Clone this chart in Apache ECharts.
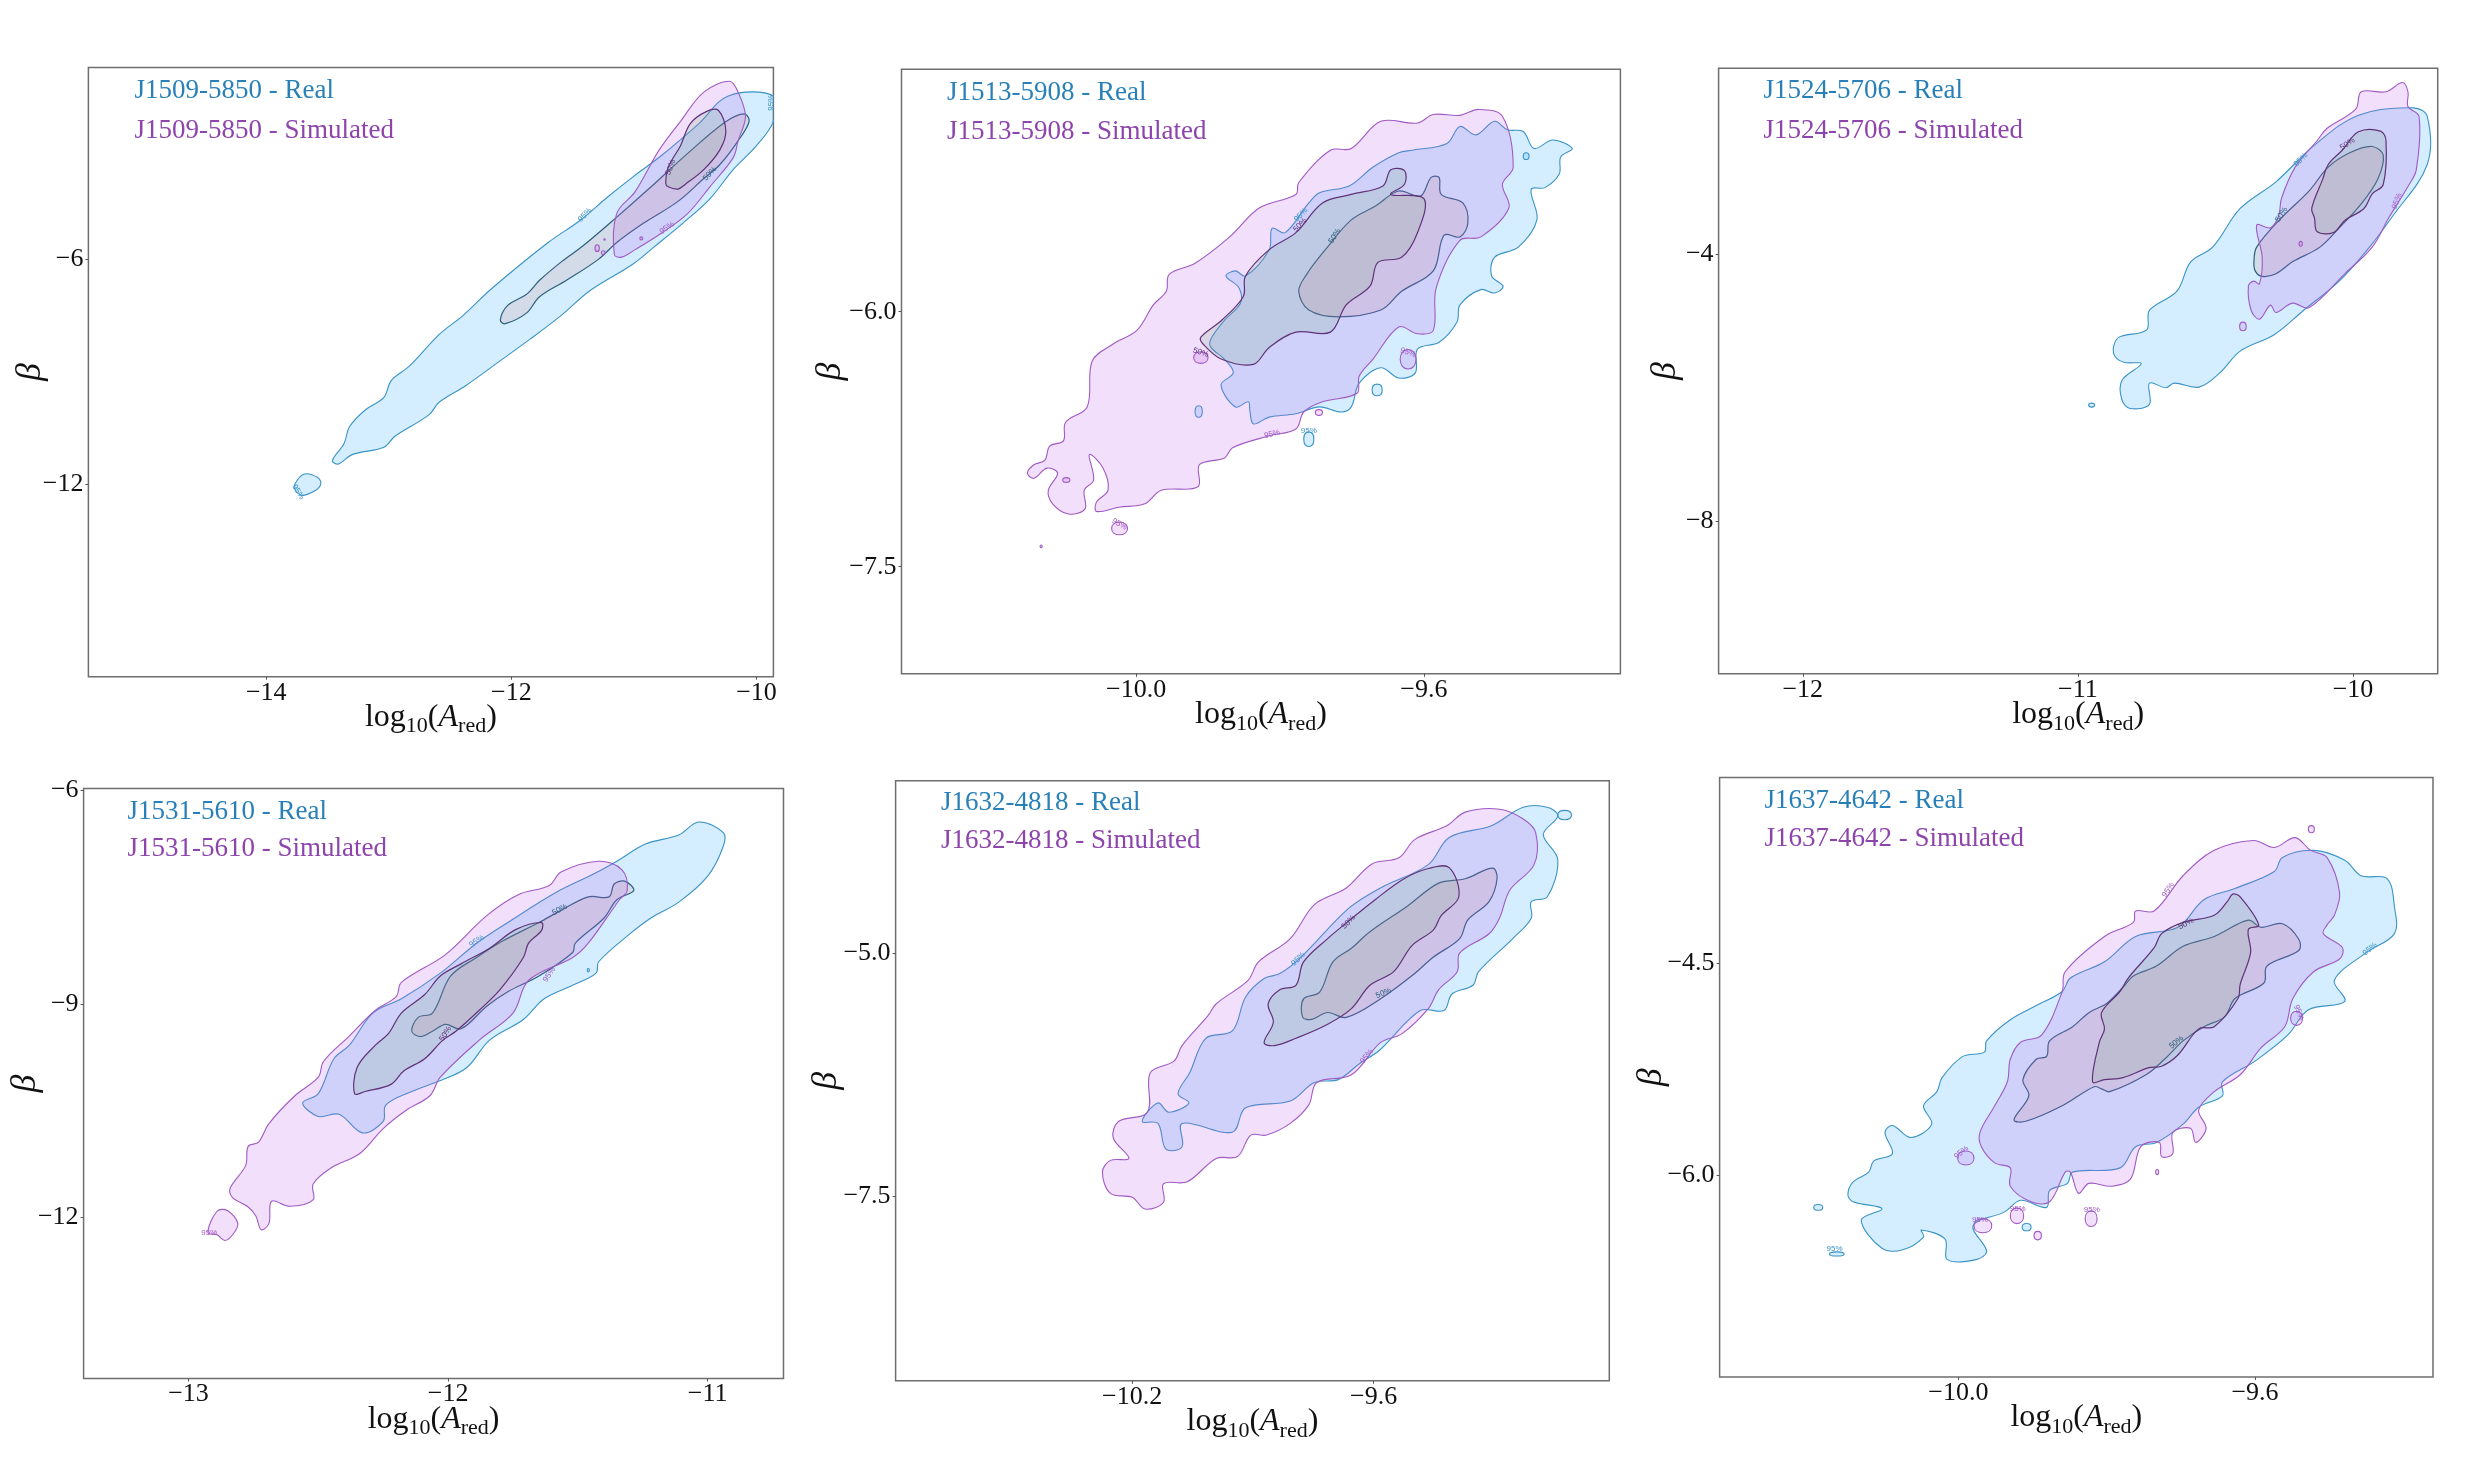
<!DOCTYPE html>
<html><head><meta charset="utf-8">
<style>html,body{margin:0;padding:0;background:#fff}#c{width:2480px;height:1465px}</style>
<script src="https://cdn.jsdelivr.net/npm/echarts@6/dist/echarts.min.js"></script>
</head><body><div id="c"></div>
<script>
// ---------- names ----------
const pulsars = ['J1509-5850','J1513-5908','J1524-5706','J1531-5610','J1632-4818','J1637-4642'];
// ---------- ticks ----------
const xTicks = [[-14,-12,-10],[-10.0,-9.6],[-12,-11,-10],[-13,-12,-11],[-10.2,-9.6],[-10.0,-9.6]];
const yTicks = [[-6,-12],[-6.0,-7.5],[-4,-8],[-6,-9,-12],[-5.0,-7.5],[-4.5,-6.0]];
const tickDecimals = [[0,0],[1,1],[0,0],[0,0],[1,1],[1,1]];
const xRange = [[-15.451,-9.862],[-10.326,-9.327],[-12.306,-9.692],[-13.404,-10.708],[-10.788,-9.014],[-10.322,-9.360]];
const yRange = [[-17.157,-0.868],[-8.130,-4.574],[-10.291,-1.207],[-14.256,-5.98],[-9.396,-3.227],[-7.432,-3.183]];

// ---------- J1509-5850 contours (log10 A_red, beta) ----------
const p1RealOuter = [[-13.46,-11.38],[-13.365,-10.92],[-13.32,-10.47],[-13.19,-10.02],[-13.04,-9.69],[-12.98,-9.24],[-12.83,-8.85],[-12.59,-8.01],[-12.39,-7.49],[-12.16,-6.78],[-11.70,-5.55],[-11.44,-4.96],[-11.21,-4.32],[-11.01,-3.80],[-10.77,-3.21],[-10.47,-2.37],[-10.23,-1.63],[-9.862,-1.63],[-9.862,-2.31],[-10.0,-2.96],[-10.19,-3.60],[-10.38,-4.38],[-10.60,-5.03],[-10.84,-5.68],[-11.01,-6.13],[-11.36,-6.84],[-11.59,-7.49],[-11.85,-8.14],[-12.07,-8.66],[-12.37,-9.37],[-12.59,-9.82],[-12.67,-10.15],[-12.95,-10.73],[-13.04,-11.02],[-13.30,-11.22],[-13.41,-11.47]];
const p1RealPatch = [[-13.77,-12.03],[-13.69,-11.74],[-13.58,-11.83],[-13.555,-12.0],[-13.60,-12.18],[-13.71,-12.31],[-13.76,-12.18]];
const p1RealInner = [[-12.09,-7.62],[-12.03,-7.23],[-11.875,-6.93],[-11.77,-6.56],[-11.59,-6.06],[-11.42,-5.65],[-11.14,-4.87],[-10.86,-4.06],[-10.60,-3.28],[-10.255,-2.33],[-10.10,-2.11],[-10.06,-2.31],[-10.15,-2.83],[-10.30,-3.47],[-10.43,-3.84],[-10.64,-4.45],[-10.92,-5.03],[-11.14,-5.55],[-11.29,-6.0],[-11.55,-6.56],[-11.77,-7.0],[-11.875,-7.43],[-12.05,-7.72]];
const p1SimOuter = [[-11.16,-5.87],[-11.14,-4.77],[-10.99,-4.19],[-10.795,-3.08],[-10.62,-2.31],[-10.43,-1.53],[-10.22,-1.24],[-10.15,-1.53],[-10.09,-2.18],[-10.15,-2.83],[-10.19,-3.28],[-10.38,-4.06],[-10.56,-4.77],[-10.77,-5.29],[-10.99,-5.74],[-11.10,-5.94]];
const p1SimInner = [[-10.74,-3.97],[-10.72,-3.54],[-10.62,-2.96],[-10.54,-2.37],[-10.41,-2.05],[-10.31,-2.02],[-10.25,-2.57],[-10.30,-3.08],[-10.43,-3.60],[-10.58,-3.99],[-10.64,-4.12],[-10.72,-4.06]];
const p1RealSpots = [];
const p1SimSpots = [[-11.30,-5.70,0.018,0.09],[-11.25,-5.82,0.016,0.05],[-10.94,-5.44,0.012,0.04],[-11.24,-5.47,0.006,0.02]];
const p1Notes = [[-11.40,-4.81,'95%',0.8,'r'],[-9.88,-1.81,'95%',1.57,'r'],[-13.74,-12.22,'95%',-1.0,'r'],[-10.38,-3.71,'50%',0.8,'R'],[-10.70,-3.54,'50%',1.2,'S'],[-10.73,-5.16,'95%',0.6,'s']];

// ---------- J1513-5908 ----------
const p2RealOuter = [[-9.896,-6.16],[-9.877,-6.05],[-9.855,-5.95],[-9.857,-5.86],[-9.875,-5.79],[-9.862,-5.76],[-9.848,-5.79],[-9.815,-5.635],[-9.811,-5.51],[-9.793,-5.535],[-9.76,-5.36],[-9.745,-5.30],[-9.704,-5.26],[-9.671,-5.15],[-9.635,-5.065],[-9.616,-5.05],[-9.568,-5.01],[-9.55,-4.91],[-9.528,-4.96],[-9.502,-4.88],[-9.484,-4.93],[-9.462,-4.94],[-9.447,-5.04],[-9.421,-4.99],[-9.394,-5.04],[-9.41,-5.09],[-9.412,-5.19],[-9.432,-5.27],[-9.451,-5.28],[-9.443,-5.46],[-9.469,-5.62],[-9.502,-5.68],[-9.506,-5.79],[-9.49,-5.85],[-9.502,-5.89],[-9.521,-5.87],[-9.55,-5.96],[-9.554,-6.06],[-9.579,-6.18],[-9.609,-6.22],[-9.612,-6.36],[-9.635,-6.39],[-9.66,-6.33],[-9.69,-6.42],[-9.701,-6.56],[-9.715,-6.59],[-9.745,-6.56],[-9.778,-6.60],[-9.815,-6.62],[-9.837,-6.66],[-9.842,-6.58],[-9.844,-6.53],[-9.862,-6.56],[-9.882,-6.43],[-9.865,-6.36],[-9.877,-6.28],[-9.896,-6.21]];
const p2RealInner = [[-9.774,-5.88],[-9.763,-5.78],[-9.737,-5.635],[-9.701,-5.46],[-9.668,-5.38],[-9.635,-5.29],[-9.605,-5.32],[-9.59,-5.21],[-9.579,-5.21],[-9.576,-5.31],[-9.546,-5.36],[-9.539,-5.48],[-9.55,-5.56],[-9.572,-5.55],[-9.587,-5.76],[-9.631,-5.88],[-9.66,-5.99],[-9.719,-6.03],[-9.76,-5.99]];
const p2SimOuter = [[-10.151,-6.95],[-10.142,-6.90],[-10.127,-6.875],[-10.12,-6.79],[-10.101,-6.76],[-10.098,-6.65],[-10.068,-6.56],[-10.061,-6.29],[-10.032,-6.19],[-9.999,-6.11],[-9.976,-5.96],[-9.958,-5.88],[-9.954,-5.78],[-9.918,-5.715],[-9.87,-5.56],[-9.829,-5.39],[-9.778,-5.31],[-9.774,-5.24],[-9.73,-5.05],[-9.701,-5.04],[-9.66,-4.88],[-9.609,-4.89],[-9.587,-4.84],[-9.55,-4.845],[-9.524,-4.81],[-9.491,-4.85],[-9.476,-5.15],[-9.491,-5.25],[-9.482,-5.39],[-9.521,-5.56],[-9.55,-5.58],[-9.583,-5.86],[-9.587,-6.11],[-9.609,-6.13],[-9.635,-6.09],[-9.671,-6.28],[-9.69,-6.38],[-9.693,-6.48],[-9.741,-6.53],[-9.767,-6.59],[-9.778,-6.69],[-9.815,-6.73],[-9.866,-6.80],[-9.877,-6.86],[-9.912,-6.90],[-9.914,-7.03],[-9.965,-7.05],[-9.988,-7.13],[-10.024,-7.15],[-10.055,-7.175],[-10.055,-7.12],[-10.039,-7.05],[-10.046,-6.92],[-10.065,-6.84],[-10.059,-6.99],[-10.072,-7.05],[-10.071,-7.16],[-10.094,-7.19],[-10.116,-7.13],[-10.122,-7.05],[-10.109,-6.95],[-10.124,-6.92],[-10.142,-6.98]];
const p2SimInner = [[-9.91,-6.15],[-9.881,-6.05],[-9.851,-5.91],[-9.848,-5.79],[-9.815,-5.635],[-9.778,-5.535],[-9.741,-5.36],[-9.701,-5.31],[-9.657,-5.26],[-9.646,-5.165],[-9.627,-5.17],[-9.627,-5.25],[-9.646,-5.31],[-9.6,-5.335],[-9.609,-5.535],[-9.631,-5.68],[-9.664,-5.71],[-9.675,-5.85],[-9.708,-5.96],[-9.73,-6.12],[-9.778,-6.12],[-9.815,-6.21],[-9.837,-6.31],[-9.881,-6.28],[-9.907,-6.19]];
const p2RealSpots = [[-9.913,-6.587,0.005,0.034],[-9.665,-6.46,0.007,0.034],[-9.76,-6.75,0.007,0.043],[-9.458,-5.085,0.004,0.02]];
const p2SimSpots = [[-9.746,-6.593,0.005,0.017],[-9.91,-6.27,0.01,0.034],[-9.622,-6.28,0.011,0.057],[-10.023,-7.275,0.011,0.037],[-10.132,-7.38,0.0015,0.008],[-10.097,-6.99,0.005,0.014]];
const p2Notes = [[-9.811,-6.72,'95%',0.25,'s'],[-9.76,-6.70,'95%',0,'r'],[-9.771,-5.43,'95%',0.8,'r'],[-9.772,-5.49,'50%',0.8,'S'],[-9.724,-5.555,'50%',1.0,'R'],[-10.023,-7.25,'95%',-0.5,'s'],[-9.91,-6.24,'50%',-0.3,'S'],[-9.622,-6.24,'95%',-0.3,'s']];

// ---------- J1524-5706 ----------
const p3RealOuter = [[-10.87,-5.38],[-10.85,-5.24],[-10.75,-5.13],[-10.74,-4.84],[-10.64,-4.55],[-10.59,-4.11],[-10.51,-3.89],[-10.41,-3.31],[-10.28,-2.91],[-10.14,-2.36],[-9.98,-1.91],[-9.78,-1.80],[-9.73,-1.93],[-9.73,-2.65],[-9.86,-3.45],[-9.94,-3.89],[-10.05,-4.40],[-10.18,-4.84],[-10.285,-5.20],[-10.41,-5.45],[-10.485,-5.78],[-10.56,-5.99],[-10.65,-5.93],[-10.68,-6.0],[-10.74,-5.93],[-10.74,-6.25],[-10.81,-6.31],[-10.84,-6.18],[-10.84,-5.89],[-10.77,-5.64],[-10.83,-5.62],[-10.865,-5.53]];
const p3RealInner = [[-10.36,-4.11],[-10.35,-3.89],[-10.26,-3.45],[-10.16,-3.05],[-10.09,-2.69],[-10.01,-2.47],[-9.93,-2.38],[-9.89,-2.51],[-9.91,-2.87],[-9.97,-3.24],[-10.05,-3.60],[-10.12,-3.89],[-10.22,-4.11],[-10.28,-4.29],[-10.33,-4.33],[-10.355,-4.25]];
const p3SimOuter = [[-10.38,-4.47],[-10.36,-4.40],[-10.34,-4.44],[-10.33,-4.04],[-10.35,-3.56],[-10.30,-3.60],[-10.27,-3.42],[-10.26,-3.16],[-10.21,-2.69],[-10.13,-2.29],[-10.095,-2.11],[-9.99,-1.82],[-9.97,-1.56],[-9.88,-1.56],[-9.82,-1.42],[-9.80,-1.56],[-9.80,-1.78],[-9.76,-1.93],[-9.77,-2.73],[-9.80,-2.98],[-9.87,-3.45],[-9.93,-3.89],[-10.03,-4.29],[-10.16,-4.80],[-10.22,-4.73],[-10.28,-4.87],[-10.30,-4.76],[-10.34,-4.97],[-10.37,-4.84]];
const p3SimInner = [[-10.15,-3.31],[-10.11,-2.87],[-10.09,-2.65],[-10.04,-2.44],[-9.98,-2.16],[-9.90,-2.15],[-9.88,-2.29],[-9.89,-2.95],[-9.93,-3.09],[-9.96,-3.31],[-10.03,-3.49],[-10.07,-3.67],[-10.13,-3.66],[-10.14,-3.45]];
const p3RealSpots = [[-10.95,-6.26,0.011,0.03]];
const p3SimSpots = [[-10.40,-5.08,0.012,0.065],[-10.19,-3.84,0.006,0.036]];
const p3Notes = [[-10.19,-2.58,'95%',0.8,'r'],[-10.02,-2.34,'50%',0.6,'S'],[-10.26,-3.40,'50%',1.0,'R'],[-9.84,-3.2,'95%',1.2,'s']];

// ---------- J1531-5610 ----------
const p4RealOuter = [[-12.56,-10.39],[-12.50,-10.26],[-12.44,-9.77],[-12.38,-9.58],[-12.29,-9.13],[-12.18,-8.93],[-12.03,-8.57],[-11.89,-8.15],[-11.77,-7.86],[-11.585,-7.44],[-11.44,-7.18],[-11.35,-7.0],[-11.24,-6.76],[-11.11,-6.63],[-11.035,-6.45],[-10.94,-6.60],[-10.94,-6.79],[-11.0,-7.21],[-11.11,-7.57],[-11.22,-7.80],[-11.30,-8.02],[-11.42,-8.41],[-11.43,-8.57],[-11.52,-8.74],[-11.63,-8.93],[-11.71,-9.22],[-11.84,-9.51],[-11.93,-9.90],[-12.04,-10.09],[-12.14,-10.23],[-12.24,-10.42],[-12.25,-10.65],[-12.33,-10.81],[-12.42,-10.55],[-12.50,-10.58]];
const p4RealInner = [[-12.14,-9.385],[-12.115,-9.19],[-12.06,-9.13],[-11.99,-8.61],[-11.89,-8.35],[-11.79,-8.12],[-11.65,-7.86],[-11.565,-7.69],[-11.46,-7.50],[-11.38,-7.50],[-11.36,-7.32],[-11.32,-7.28],[-11.285,-7.41],[-11.35,-7.54],[-11.40,-7.80],[-11.51,-8.15],[-11.52,-8.28],[-11.65,-8.61],[-11.77,-8.83],[-11.85,-9.03],[-11.95,-9.35],[-12.01,-9.29],[-12.06,-9.385],[-12.105,-9.46]];
const p4SimOuter = [[-12.84,-11.59],[-12.78,-11.27],[-12.77,-11.0],[-12.73,-10.94],[-12.69,-10.68],[-12.59,-10.29],[-12.50,-10.03],[-12.48,-9.81],[-12.38,-9.45],[-12.28,-9.09],[-12.20,-8.90],[-12.18,-8.70],[-12.01,-8.31],[-11.85,-7.76],[-11.73,-7.47],[-11.61,-7.34],[-11.565,-7.15],[-11.42,-7.0],[-11.33,-7.12],[-11.31,-7.41],[-11.34,-7.54],[-11.46,-8.15],[-11.52,-8.35],[-11.69,-8.67],[-11.75,-9.13],[-11.88,-9.51],[-12.03,-10.03],[-12.07,-10.29],[-12.16,-10.49],[-12.25,-10.75],[-12.34,-11.10],[-12.45,-11.30],[-12.52,-11.53],[-12.52,-11.75],[-12.61,-11.84],[-12.68,-11.77],[-12.69,-12.08],[-12.72,-12.17],[-12.74,-11.98],[-12.77,-11.85],[-12.83,-11.72]];
const p4SimPatch = [[-12.925,-12.21],[-12.89,-11.91],[-12.85,-11.90],[-12.81,-12.08],[-12.83,-12.24],[-12.86,-12.32],[-12.89,-12.24]];
const p4SimInner = [[-12.36,-10.26],[-12.35,-9.89],[-12.28,-9.58],[-12.23,-9.42],[-12.18,-9.13],[-12.09,-8.87],[-12.03,-8.61],[-11.95,-8.44],[-11.84,-8.22],[-11.74,-7.96],[-11.64,-7.86],[-11.64,-7.97],[-11.69,-8.15],[-11.71,-8.35],[-11.80,-8.80],[-11.88,-9.09],[-11.97,-9.385],[-12.02,-9.51],[-12.09,-9.77],[-12.17,-9.94],[-12.22,-10.13],[-12.32,-10.23]];
const p4RealSpots = [[-11.46,-8.53,0.004,0.025]];
const p4SimSpots = [];
const p4Notes = [[-11.89,-8.12,'95%',0.6,'r'],[-11.61,-8.59,'95%',1.0,'s'],[-11.57,-7.68,'50%',0.5,'R'],[-12.01,-9.42,'50%',1.0,'S'],[-12.92,-12.21,'95%',0,'s']];

// ---------- J1632-4818 ----------
const p5RealOuter = [[-10.175,-6.73],[-10.136,-6.54],[-10.109,-6.635],[-10.059,-6.54],[-10.086,-6.445],[-10.057,-6.23],[-10.017,-5.875],[-9.951,-5.80],[-9.918,-5.45],[-9.872,-5.26],[-9.833,-5.21],[-9.78,-5.04],[-9.662,-4.54],[-9.583,-4.33],[-9.464,-4.09],[-9.412,-3.81],[-9.307,-3.69],[-9.228,-3.50],[-9.168,-3.50],[-9.142,-3.59],[-9.178,-3.78],[-9.142,-4.04],[-9.168,-4.42],[-9.208,-4.47],[-9.208,-4.64],[-9.254,-4.85],[-9.339,-5.19],[-9.353,-5.33],[-9.405,-5.42],[-9.425,-5.59],[-9.484,-5.59],[-9.583,-5.99],[-9.636,-6.14],[-9.688,-6.30],[-9.747,-6.33],[-9.807,-6.52],[-9.918,-6.59],[-9.951,-6.84],[-10.076,-6.75],[-10.076,-6.99],[-10.116,-7.015],[-10.136,-6.75]];
const p5RealInner = [[-9.776,-5.66],[-9.774,-5.47],[-9.734,-5.40],[-9.701,-5.09],[-9.655,-4.95],[-9.609,-4.78],[-9.517,-4.52],[-9.438,-4.28],[-9.372,-4.235],[-9.304,-4.125],[-9.293,-4.235],[-9.313,-4.47],[-9.366,-4.66],[-9.386,-4.85],[-9.451,-5.04],[-9.504,-5.23],[-9.583,-5.47],[-9.668,-5.66],[-9.714,-5.61],[-9.754,-5.68]];
const p5SimOuter = [[-10.274,-7.25],[-10.254,-7.13],[-10.208,-7.11],[-10.247,-6.90],[-10.234,-6.73],[-10.162,-6.635],[-10.155,-6.23],[-10.096,-6.11],[-10.076,-5.95],[-10.011,-5.64],[-9.991,-5.52],[-9.912,-5.28],[-9.886,-5.09],[-9.807,-4.85],[-9.747,-4.50],[-9.668,-4.33],[-9.603,-4.08],[-9.537,-4.02],[-9.497,-3.83],[-9.418,-3.69],[-9.372,-3.55],[-9.287,-3.52],[-9.228,-3.62],[-9.197,-3.76],[-9.201,-4.09],[-9.261,-4.35],[-9.287,-4.64],[-9.313,-4.80],[-9.386,-5.0],[-9.392,-5.19],[-9.438,-5.375],[-9.464,-5.57],[-9.53,-5.83],[-9.583,-5.92],[-9.655,-6.25],[-9.741,-6.33],[-9.761,-6.56],[-9.807,-6.75],[-9.866,-6.87],[-9.905,-6.87],[-9.938,-7.09],[-9.991,-7.11],[-10.063,-7.35],[-10.122,-7.37],[-10.122,-7.56],[-10.168,-7.63],[-10.2,-7.51],[-10.254,-7.47]];
const p5SimInner = [[-9.872,-5.92],[-9.849,-5.71],[-9.862,-5.52],[-9.833,-5.375],[-9.793,-5.33],[-9.774,-5.09],[-9.714,-4.85],[-9.668,-4.69],[-9.596,-4.45],[-9.524,-4.235],[-9.464,-4.13],[-9.412,-4.12],[-9.388,-4.42],[-9.432,-4.615],[-9.451,-4.76],[-9.504,-4.92],[-9.55,-5.19],[-9.609,-5.33],[-9.655,-5.57],[-9.714,-5.73],[-9.793,-5.875],[-9.846,-5.95]];
const p5RealSpots = [[-9.125,-3.58,0.017,0.048]];
const p5SimSpots = [];
const p5Notes = [[-9.787,-5.06,'95%',0.8,'r'],[-9.662,-4.68,'50%',0.8,'S'],[-9.575,-5.41,'50%',0.4,'R'],[-9.617,-6.06,'95%',0.9,'s']];

// ---------- J1637-4642 ----------
const p6RealOuter = [[-10.149,-6.14],[-10.142,-6.05],[-10.121,-5.98],[-10.114,-5.90],[-10.089,-5.85],[-10.099,-5.70],[-10.089,-5.65],[-10.064,-5.735],[-10.036,-5.64],[-10.047,-5.51],[-10.029,-5.41],[-10.022,-5.31],[-9.994,-5.16],[-9.965,-5.13],[-9.962,-5.05],[-9.93,-4.90],[-9.895,-4.80],[-9.86,-4.70],[-9.849,-4.605],[-9.803,-4.49],[-9.761,-4.31],[-9.704,-4.245],[-9.669,-4.05],[-9.627,-3.97],[-9.574,-3.85],[-9.563,-3.75],[-9.521,-3.70],[-9.479,-3.77],[-9.457,-3.88],[-9.422,-3.90],[-9.412,-4.10],[-9.412,-4.29],[-9.45,-4.425],[-9.493,-4.62],[-9.479,-4.77],[-9.528,-4.83],[-9.556,-5.01],[-9.599,-5.19],[-9.644,-5.34],[-9.644,-5.44],[-9.676,-5.52],[-9.697,-5.64],[-9.733,-5.77],[-9.761,-5.80],[-9.782,-5.95],[-9.846,-5.98],[-9.853,-6.06],[-9.877,-6.11],[-9.881,-6.23],[-9.916,-6.18],[-9.937,-6.26],[-9.98,-6.36],[-9.962,-6.54],[-9.976,-6.60],[-10.015,-6.60],[-10.018,-6.455],[-10.05,-6.39],[-10.047,-6.44],[-10.075,-6.53],[-10.103,-6.52],[-10.131,-6.32],[-10.103,-6.24],[-10.142,-6.19]];
const p6RealInner = [[-9.925,-5.61],[-9.905,-5.44],[-9.913,-5.325],[-9.895,-5.18],[-9.881,-5.16],[-9.877,-5.05],[-9.846,-4.95],[-9.824,-4.85],[-9.80,-4.785],[-9.778,-4.67],[-9.764,-4.59],[-9.733,-4.52],[-9.697,-4.38],[-9.655,-4.31],[-9.609,-4.195],[-9.592,-4.245],[-9.563,-4.22],[-9.541,-4.33],[-9.541,-4.41],[-9.584,-4.52],[-9.588,-4.64],[-9.627,-4.75],[-9.641,-4.88],[-9.669,-4.95],[-9.697,-5.05],[-9.722,-5.18],[-9.747,-5.29],[-9.796,-5.41],[-9.807,-5.39],[-9.817,-5.375],[-9.86,-5.51],[-9.909,-5.62]];
const p6SimOuter = [[-9.971,-5.70],[-9.951,-5.51],[-9.934,-5.34],[-9.93,-5.18],[-9.916,-5.06],[-9.888,-5.01],[-9.86,-4.70],[-9.856,-4.56],[-9.803,-4.31],[-9.764,-4.21],[-9.761,-4.13],[-9.736,-4.13],[-9.697,-3.88],[-9.655,-3.70],[-9.602,-3.63],[-9.574,-3.68],[-9.546,-3.61],[-9.525,-3.70],[-9.503,-3.75],[-9.486,-4.0],[-9.493,-4.16],[-9.503,-4.23],[-9.508,-4.29],[-9.482,-4.39],[-9.486,-4.47],[-9.521,-4.56],[-9.549,-4.75],[-9.56,-4.95],[-9.592,-5.10],[-9.62,-5.29],[-9.655,-5.41],[-9.676,-5.54],[-9.666,-5.67],[-9.68,-5.77],[-9.687,-5.67],[-9.711,-5.70],[-9.711,-5.85],[-9.726,-5.87],[-9.729,-5.77],[-9.754,-5.80],[-9.768,-6.03],[-9.793,-6.08],[-9.824,-6.06],[-9.838,-6.13],[-9.849,-5.98],[-9.856,-5.98],[-9.877,-6.19],[-9.902,-6.19],[-9.93,-6.08],[-9.93,-5.95],[-9.951,-5.915],[-9.969,-5.80]];
const p6SimInner = [[-9.819,-5.34],[-9.81,-5.06],[-9.803,-4.965],[-9.807,-4.85],[-9.782,-4.70],[-9.771,-4.605],[-9.736,-4.39],[-9.726,-4.29],[-9.697,-4.21],[-9.655,-4.16],[-9.637,-4.06],[-9.63,-4.01],[-9.62,-4.03],[-9.595,-4.23],[-9.609,-4.26],[-9.606,-4.425],[-9.62,-4.65],[-9.623,-4.75],[-9.655,-4.95],[-9.676,-4.965],[-9.704,-5.15],[-9.726,-5.23],[-9.743,-5.24],[-9.778,-5.31],[-9.803,-5.325]];
const p6RealSpots = [[-10.189,-6.23,0.006,0.02],[-9.908,-6.37,0.006,0.026],[-10.164,-6.56,0.010,0.015]];
const p6SimSpots = [[-9.99,-5.88,0.011,0.05],[-9.967,-6.36,0.012,0.05],[-9.921,-6.29,0.009,0.055],[-9.893,-6.43,0.005,0.03],[-9.821,-6.31,0.008,0.055],[-9.732,-5.98,0.002,0.018],[-9.544,-4.89,0.008,0.05],[-9.524,-3.55,0.004,0.025]];
const p6Notes = [[-9.717,-3.98,'95%',1.0,'s'],[-9.693,-4.22,'50%',0.5,'S'],[-9.445,-4.40,'95%',0.7,'r'],[-9.706,-5.06,'50%',0.7,'R'],[-9.541,-4.85,'95%',-1.2,'s'],[-9.996,-5.84,'95%',0.7,'s'],[-9.971,-6.32,'95%',0,'s'],[-9.92,-6.24,'95%',0,'s'],[-9.82,-6.25,'95%',0,'s'],[-10.167,-6.52,'95%',0,'r']];

// ---------- style and layout (not data) ----------
const FONT = '"Liberation Serif", serif';
const C = {
  realText:'#2980b9', simText:'#8e44ad',
  realFill:'rgba(40,170,255,0.2)', realInnerFill:'rgba(195,80,55,0.12)',
  simFill:'rgba(190,95,235,0.2)', simInnerFill:'rgba(90,165,90,0.14)',
  realLine:'#3a93c6', simLine:'#a05ac4', realInnerLine:'#2d5f7d', simInnerLine:'#5f3278'
};
const noteColor = {r:'#3a93c6', s:'#a05ac4', R:'#2d5f7d', S:'#5f3278'};
const grids = [
 {l:88.4,r:773.4,t:67.4,b:676.7},{l:901.5,r:1620.4,t:69.3,b:673.8},{l:1718.6,r:2437.7,t:68.3,b:673.8},
 {l:83.6,r:783.5,t:788.5,b:1378.5},{l:895.6,r:1609.3,t:780.7,b:1380.8},{l:1719.6,r:2433,t:777.4,b:1377}
];
const yNameGap = [40,53,35,40,51,50];
const legendPos = [[134.5,91.2,131],[947,92.5,131.5],[1763.6,91.2,131],[127.6,811.8,848.8],[941,803,841],[1764.6,800.5,838.5]];

const panels = [
 {ro:[p1RealOuter,p1RealPatch],ri:[p1RealInner],so:[p1SimOuter],si:[p1SimInner],rs:p1RealSpots,ss:p1SimSpots,n:p1Notes},
 {ro:[p2RealOuter],ri:[p2RealInner],so:[p2SimOuter],si:[p2SimInner],rs:p2RealSpots,ss:p2SimSpots,n:p2Notes},
 {ro:[p3RealOuter],ri:[p3RealInner],so:[p3SimOuter],si:[p3SimInner],rs:p3RealSpots,ss:p3SimSpots,n:p3Notes},
 {ro:[p4RealOuter],ri:[p4RealInner],so:[p4SimOuter,p4SimPatch],si:[p4SimInner],rs:p4RealSpots,ss:p4SimSpots,n:p4Notes},
 {ro:[p5RealOuter],ri:[p5RealInner],so:[p5SimOuter],si:[p5SimInner],rs:p5RealSpots,ss:p5SimSpots,n:p5Notes},
 {ro:[p6RealOuter],ri:[p6RealInner],so:[p6SimOuter],si:[p6SimInner],rs:p6RealSpots,ss:p6SimSpots,n:p6Notes}
];

function polySeries(i, pts, fill, stroke, lw){
  return {type:'custom', coordinateSystem:'cartesian2d', xAxisIndex:i, yAxisIndex:i, clip:true, silent:true,
    data:pts, encode:{x:0,y:1},
    renderItem:function(params, api){
      if(params.dataIndex!==0) return null;
      return {type:'polygon', shape:{points:pts.map(p=>api.coord(p)), smooth:0.35},
              style:{fill:fill, stroke:stroke, lineWidth:lw}};
    }};
}
function spotSeries(i, spots, fill, stroke){
  return {type:'custom', coordinateSystem:'cartesian2d', xAxisIndex:i, yAxisIndex:i, clip:true, silent:true,
    data:spots, encode:{x:0,y:1},
    renderItem:function(params, api){
      const s=spots[params.dataIndex];
      const pts=[[s[0]-s[2],s[1]],[s[0],s[1]+s[3]],[s[0]+s[2],s[1]],[s[0],s[1]-s[3]]];
      return {type:'polygon', shape:{points:pts.map(p=>api.coord(p)), smooth:0.6},
              style:{fill:fill, stroke:stroke, lineWidth:1.1}};
    }};
}
function noteSeries(i, notes){
  return {type:'custom', coordinateSystem:'cartesian2d', xAxisIndex:i, yAxisIndex:i, clip:true, silent:true,
    data:notes.map(n=>[n[0],n[1]]), encode:{x:0,y:1},
    renderItem:function(params, api){
      const n=notes[params.dataIndex], c=api.coord([n[0],n[1]]);
      return {type:'text', x:c[0], y:c[1], rotation:n[3], originX:0, originY:0,
              style:{text:n[2], fill:noteColor[n[4]], font:'8px "Liberation Sans", sans-serif', align:'center', verticalAlign:'middle'}};
    }};
}

const option = {backgroundColor:'#fff', animation:false, grid:[], xAxis:[], yAxis:[], series:[], graphic:[]};
panels.forEach((p,i)=>{
  const g=grids[i];
  option.grid.push({left:g.l, top:g.t, width:g.r-g.l, height:g.b-g.t, show:true, borderColor:'#6e6e6e', borderWidth:1.5, backgroundColor:'#fff', outerBoundsMode:'none', containLabel:false});
  const fmt=d=>v=>v.toFixed(d).replace('-','\u2212');
  option.xAxis.push({type:'value', gridIndex:i, min:xRange[i][0], max:xRange[i][1], splitLine:{show:false},
    axisLine:{show:false}, axisTick:{show:true, length:3, inside:false, customValues:xTicks[i], lineStyle:{color:'#555',width:1}},
    axisLabel:{customValues:xTicks[i], formatter:fmt(tickDecimals[i][0]), color:'#111', fontFamily:FONT, fontSize:26, margin:3, hideOverlap:false},
    name:'{l|log}{s|10}{l|(}{i|A}{s|red}{l|)}', nameLocation:'middle', nameGap:21, nameMoveOverlap:false,
    nameTextStyle:{rich:{l:{fontFamily:FONT,fontSize:32,color:'#111',lineHeight:40},
      i:{fontFamily:FONT,fontSize:32,fontStyle:'italic',color:'#111',lineHeight:40},
      s:{fontFamily:FONT,fontSize:22,color:'#111',lineHeight:30,verticalAlign:'bottom'}}}});
  option.yAxis.push({type:'value', gridIndex:i, min:yRange[i][0], max:yRange[i][1], splitLine:{show:false},
    axisLine:{show:false}, axisTick:{show:true, length:3, customValues:yTicks[i], lineStyle:{color:'#555',width:1}},
    axisLabel:{customValues:yTicks[i], formatter:fmt(tickDecimals[i][1]), color:'#111', fontFamily:FONT, fontSize:26, margin:5, hideOverlap:false},
    name:'\u03B2', nameLocation:'middle', nameGap:yNameGap[i], nameRotate:90, nameMoveOverlap:false,
    nameTextStyle:{fontFamily:FONT,fontSize:36,fontStyle:'italic',color:'#111'}});
  p.ro.forEach(a=>option.series.push(polySeries(i,a,C.realFill,C.realLine,1.1)));
  if(p.rs.length) option.series.push(spotSeries(i,p.rs,C.realFill,C.realLine));
  p.ri.forEach(a=>option.series.push(polySeries(i,a,C.realInnerFill,C.realInnerLine,1.2)));
  p.so.forEach(a=>option.series.push(polySeries(i,a,C.simFill,C.simLine,1.1)));
  if(p.ss.length) option.series.push(spotSeries(i,p.ss,C.simFill,C.simLine));
  p.si.forEach(a=>option.series.push(polySeries(i,a,C.simInnerFill,C.simInnerLine,1.2)));
  option.series.push(noteSeries(i,p.n));
  const lp=legendPos[i];
  option.graphic.push({type:'text', x:lp[0], y:lp[1], z:100, style:{text:pulsars[i]+' - Real', fill:C.realText, font:'27px '+FONT, verticalAlign:'middle'}});
  option.graphic.push({type:'text', x:lp[0], y:lp[2], z:100, style:{text:pulsars[i]+' - Simulated', fill:C.simText, font:'27px '+FONT, verticalAlign:'middle'}});
});
const chart = echarts.init(document.getElementById('c'), null, {renderer:'canvas', width:2480, height:1465});
chart.setOption(option);
</script></body></html>
